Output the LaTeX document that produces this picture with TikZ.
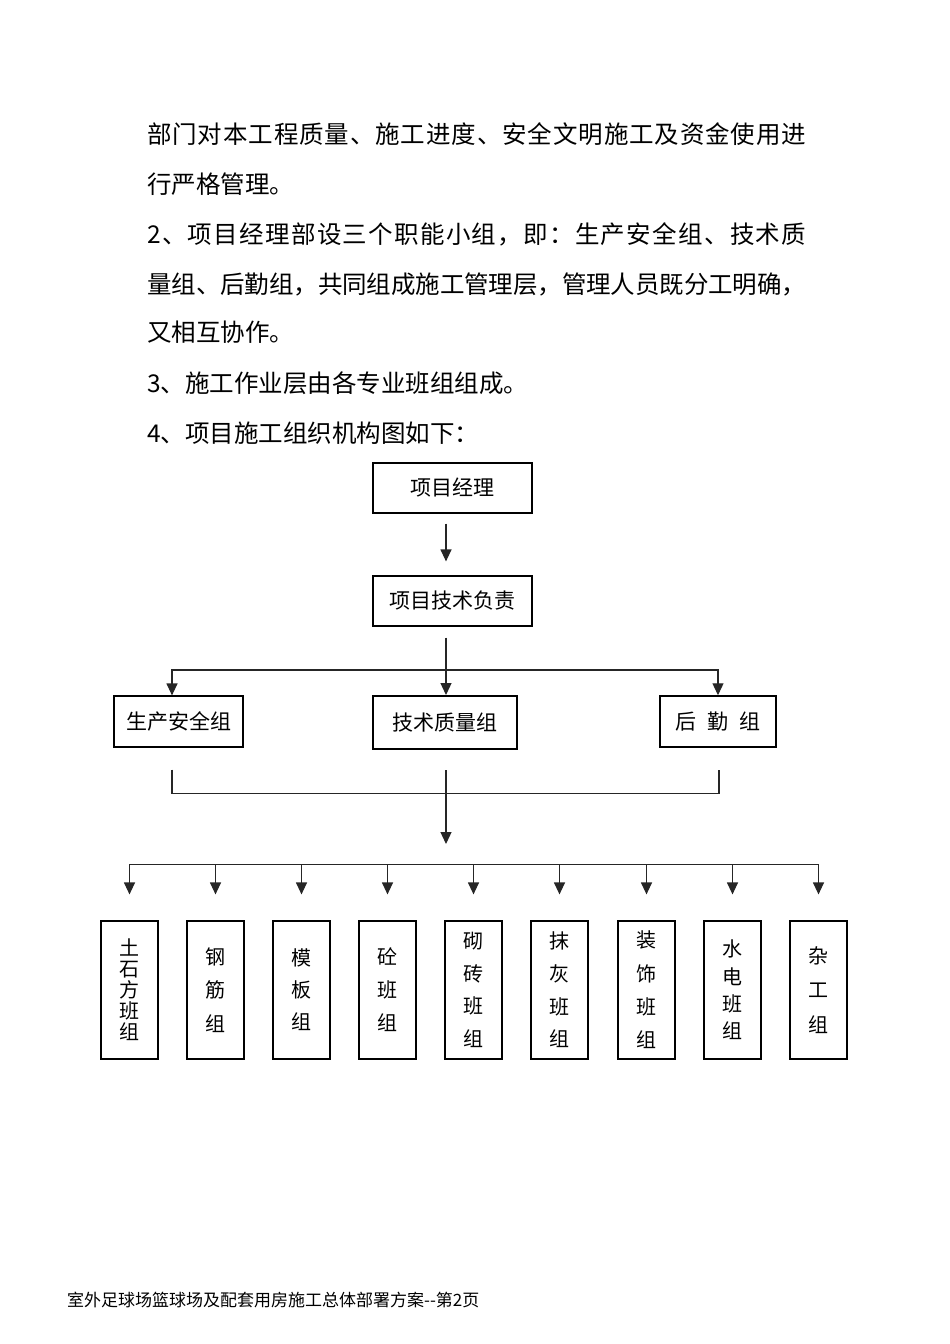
\documentclass[tikz,border=0pt]{standalone}
\usepackage{fontspec}
\setmainfont{Noto Sans CJK SC}
\usetikzlibrary{arrows.meta,calc}
\makeatletter
\def\jglue{\hskip 0pt plus 1fil minus 1fil\relax}
\def\jus#1{\jus@a#1\jus@end}
\def\jus@end{\jus@end}
\def\jus@a#1{#1\futurelet\jus@next\jus@b}
\def\jus@b{\ifx\jus@next\jus@end\expandafter\@gobble\else\jglue\expandafter\jus@a\fi}
\makeatother
\begin{document}
\begin{tikzpicture}[x=1pt,y=-1pt,
  ln/.style={line width=1.2pt, draw=black!85},
  arr/.style={ln, -{Triangle[length=12pt,width=11pt]}},
  hbox/.style={draw=black, line width=1.2pt, inner sep=0pt, font=\fontsize{21}{24}\selectfont},
  vbox/.style={draw=black, line width=1.2pt, inner sep=0pt, minimum width=57pt, minimum height=138pt, align=center},
  body/.style={anchor=west, inner sep=0pt, font=\fontsize{24.5}{26}\selectfont},
  foot/.style={anchor=west, inner sep=0pt, font=\fontsize{17}{19}\selectfont},
]
\fill[white] (0,0) rectangle (950,1344);
\useasboundingbox (0,0) rectangle (950,1344);

% body text
\node[body] (l1) at (147,134) {\makebox[659pt][s]{\jus{部门对本工程质量、施工进度、安全文明施工及资金使用进}}};
\node[body] (l2) at (147,184) {行严格管理。};
\node[body] (l3) at (147,234) {\makebox[659pt][s]{\jus{2、项目经理部设三个职能小组，即：生产安全组、技术质}}};
\node[body] (l4) at (147,284) {\makebox[659pt][s]{\jus{量组、后勤组，共同组成施工管理层，管理人员既分工明确，}}};
\node[body] (l5) at (147,332) {又相互协作。};
\node[body] (l6) at (147,383) {3、施工作业层由各专业班组组成。};
\node[body] (l7) at (147,433) {4、项目施工组织机构图如下：};

% upper boxes
\node[hbox, minimum width=159pt, minimum height=50pt] (pm) at (452.5,488) {\raisebox{2pt}{项目经理}};
\node[hbox, minimum width=159pt, minimum height=50pt] (tl) at (452.5,601) {项目技术负责};
\node[hbox, minimum width=129pt, minimum height=51pt] (sa) at (178.5,721.5) {生产安全组};
\node[hbox, line width=2pt, minimum width=144pt, minimum height=53pt] (tq) at (445,722.5) {技术质量组};
\node[hbox, line width=1.5pt, minimum width=116pt, minimum height=51pt] (hq) at (718,721.5) {后\hspace{11pt}勤\hspace{11pt}组};

% upper connectors
\draw[arr] ($(pm.south)+(-6.5,10)$) -- ($(tl.north)+(-6.5,-14)$);
\draw[arr] ($(tl.south -| tq.north)+(1,11)$) -- ($(tq.north)+(1,0)$);
\draw[arr] ($(tq.north)+(1,-25)$) -| ($(sa.north)+(-6.5,0)$);
\draw[arr] ($(tq.north)+(1,-25)$) -| ($(hq.north)+(0,0)$);

% lower boxes
\node[vbox, font=\fontsize{20}{21}\selectfont] (b1) at (129.5,990) {土\\石\\方\\班\\组};
\node[vbox, font=\fontsize{20}{33.5}\selectfont] (b2) at (215.5,990) {钢\\筋\\组};
\node[vbox, font=\fontsize{20}{32}\selectfont] (b3) at (301.5,990) {模\\板\\组};
\node[vbox, font=\fontsize{20}{33}\selectfont] (b4) at (387.5,990) {砼\\班\\组};
\node[vbox, font=\fontsize{20}{32.7}\selectfont] (b5) at (473.5,990) {砌\\砖\\班\\组};
\node[vbox, font=\fontsize{20}{32.7}\selectfont] (b6) at (559.5,990) {抹\\灰\\班\\组};
\node[vbox, font=\fontsize{20}{33.3}\selectfont] (b7) at (646.5,990) {装\\饰\\班\\组};
\node[vbox, font=\fontsize{20}{27.3}\selectfont] (b8) at (732.5,990) {水\\电\\班\\组};
\node[vbox, font=\fontsize{20}{34.5}\selectfont] (b9) at (818.5,990) {杂\\工\\组};

% lower connectors
\draw[ln] ($(sa.south)+(-6.5,22)$) |- ($(hq.south)+(1,46)$) -- ($(hq.south)+(1,22)$);
\draw[arr] ($(tq.south)+(1,20)$) -- ++(0,74);
\draw[ln] ($(b1.north)+(0,-56)$) -- ($(b9.north)+(0,-56)$);
\foreach \i in {1,...,9}{
  \draw[arr] ($(b\i.north)+(0,-56)$) -- ($(b\i.north)+(0,-26)$);
}

% footer
\node[foot] (ft) at (67,1300) {室外足球场篮球场及配套用房施工总体部署方案-{}-第2页};
\end{tikzpicture}
\end{document}
